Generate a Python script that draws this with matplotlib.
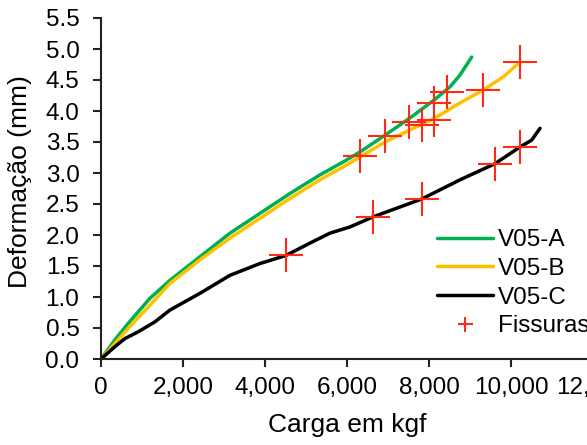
import matplotlib
matplotlib.use('Agg')
import matplotlib.pyplot as plt
from matplotlib.ticker import FuncFormatter, MultipleLocator

plt.rcParams['font.family'] = ['Liberation Sans', 'DejaVu Sans']

# V05-A (verde)
xa = [0, 340, 670, 1195, 1683, 2415, 3146, 3878, 4610, 5341, 5911, 6317, 6927,
      7520, 8130, 8512, 8756, 9041]
ya = [0, 0.31, 0.58, 0.98, 1.27, 1.65, 2.03, 2.35, 2.67, 2.97, 3.18, 3.34, 3.61,
      3.88, 4.18, 4.39, 4.58, 4.87]
# V05-B (amarelo)
xb = [0, 340, 670, 1195, 1683, 2415, 3146, 3878, 4610, 5341, 5992, 6317, 6927,
      7520, 8130, 8675, 9325, 9812, 10220]
yb = [0, 0.25, 0.50, 0.87, 1.22, 1.60, 1.95, 2.27, 2.59, 2.89, 3.13, 3.26, 3.50,
      3.69, 3.88, 4.10, 4.34, 4.55, 4.79]
# V05-C (preto)
xc = [0, 341, 585, 911, 1317, 1683, 2415, 3146, 3878, 4512, 5098, 5585, 6073,
      6626, 7821, 8756, 9610, 10220, 10504, 10707]
yc = [0, 0.20, 0.33, 0.44, 0.60, 0.79, 1.06, 1.35, 1.54, 1.67, 1.87, 2.03, 2.13,
      2.29, 2.58, 2.89, 3.15, 3.42, 3.53, 3.72]
# fissuras
xf = [4512, 6317, 6626, 6927, 7520, 7821, 7821, 8130, 8130, 8431, 9325, 9610,
      10220, 10220]
yf = [1.67, 3.28, 2.29, 3.59, 3.83, 3.77, 2.58, 3.85, 4.13, 4.30, 4.34, 3.15,
      4.79, 3.42]

fig = plt.figure(figsize=(5.87, 4.45), dpi=100)
ax = fig.add_axes([101/587, 86/445, 492/587, 341/445])

ax.plot(xa, ya, color='#00B050', lw=2.5, label='V05-A', solid_capstyle='round')
ax.plot(xb, yb, color='#FFC000', lw=2.5, label='V05-B', solid_capstyle='round')
ax.plot(xc, yc, color='black', lw=2.5, label='V05-C', solid_capstyle='round')
ax.plot(xf, yf, ls='none', marker='+', ms=24, mew=1.5, color='#FF2A14',
        label='Fissuras')

ax.set_xlim(0, 12000)
ax.set_ylim(0, 5.5)
ax.xaxis.set_major_locator(MultipleLocator(2000))
ax.yaxis.set_major_locator(MultipleLocator(0.5))
ax.xaxis.set_major_formatter(FuncFormatter(lambda v, p: f'{v:,.0f}'))
ax.yaxis.set_major_formatter(FuncFormatter(lambda v, p: f'{v:.1f}'))

for s in ['top', 'right']:
    ax.spines[s].set_visible(False)
for s in ['left', 'bottom']:
    ax.spines[s].set_linewidth(1.5)
    ax.spines[s].set_color('#222222')
ax.tick_params(direction='out', length=5.5, width=1.5, color='#222222',
               labelsize=17.5)
ax.tick_params(axis='x', pad=7.5)
ax.tick_params(axis='y', pad=10)

ax.set_xlabel('Carga em kgf', fontsize=19)
ax.set_ylabel('Deformação (mm)', fontsize=19)
ax.xaxis.set_label_coords(0.5, -0.158)
ax.yaxis.set_label_coords(-0.14, 0.52)

ax.legend(loc='upper left', bbox_to_anchor=(437/587, 1 - 229/445),
          bbox_transform=fig.transFigure, frameon=False, fontsize=17.5,
          handlelength=2.3, handletextpad=0.2, labelspacing=0.28,
          borderpad=0, borderaxespad=0, markerscale=0.45)

fig.savefig('out.png', dpi=100)
